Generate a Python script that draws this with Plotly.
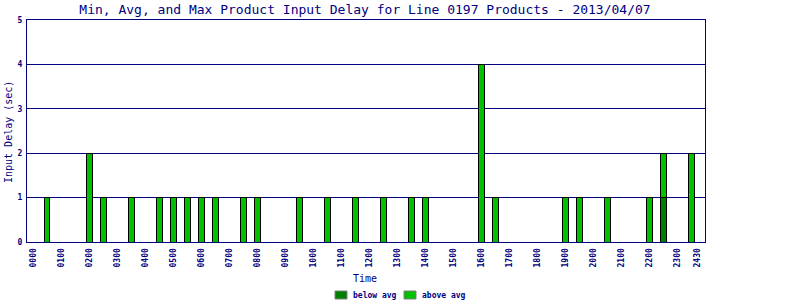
import plotly.graph_objects as go

# Half-hour slot (in hours) for each bar
slots = [0.5, 2.0, 2.5, 3.5, 4.5, 5.0, 5.5, 6.0, 6.5, 7.5, 8.0, 9.5, 10.5, 11.5,
         12.5, 13.5, 14.0, 16.0, 16.5, 19.0, 19.5, 20.5, 22.0, 22.5, 23.5]
below_avg = [None, None, None, None, None, None, None, None, None, None, None, None, None, None,
             None, None, None, None, None, None, None, None, None, 1, None]
above_avg = [1, 2, 1, 1, 1, 1, 1, 1, 1, 1, 1, 1, 1, 1,
             1, 1, 1, 4, 1, 1, 1, 1, 1, 1, 2]

tick_vals = list(range(24)) + [23.72]
tick_text = ["%02d00" % h for h in range(24)] + ["2430"]

series_names = ["below avg", "above avg"]
series_colors = ["#008000", "#00c000"]

NAVY = "#000080"
MONO = "DejaVu Sans Mono"

L, R, T, B = 27, 705, 20, 242
W, H = 800, 300


def px(x):
    return (x - L) / (R - L)


def py(y):
    return (B - y) / (B - T)


fig = go.Figure()
for name, vals, col in zip(series_names, [below_avg, above_avg], series_colors):
    fig.add_trace(go.Bar(x=slots, y=vals, name=name, width=0.2,
                         marker=dict(color=col, line=dict(color="#000000", width=1))))

fig.update_layout(
    width=W, height=H,
    barmode="stack",
    paper_bgcolor="white", plot_bgcolor="white",
    margin=dict(l=L, r=W - R, t=T, b=H - B, autoexpand=False),
    font=dict(family=MONO, color=NAVY, size=9),
    title=dict(text="Min, Avg, and Max Product Input Delay for Line 0197 Products - 2013/04/07",
               x=365 / W, xanchor="center",
               y=1 - 9 / H, yanchor="middle",
               font=dict(family=MONO, size=13, color=NAVY)),
    showlegend=False,
    hovermode=False,
)
fig.update_xaxes(
    range=[-0.22, 23.98], tickmode="array", tickvals=tick_vals, ticktext=tick_text,
    tickangle=-90, tickfont=dict(family=MONO, size=8, color=NAVY, weight="bold"),
    showgrid=False, zeroline=False, showline=True, linecolor=NAVY, linewidth=1,
    mirror=True, ticks="", automargin=False, ticklabelstandoff=2,
)
fig.update_yaxes(
    range=[0, 5], dtick=1, tickfont=dict(family=MONO, size=8, color=NAVY, weight="bold"),
    showgrid=True, gridcolor=NAVY, gridwidth=1, zeroline=False,
    showline=True, linecolor=NAVY, linewidth=1, mirror=True, ticks="", automargin=False,
    ticklabelstandoff=2,
)

# axis titles
fig.add_annotation(text="Time", x=px(365), y=py(278), xref="paper", yref="paper",
                   showarrow=False, xanchor="center", yanchor="middle",
                   font=dict(family=MONO, size=10, color=NAVY))
fig.add_annotation(text="Input Delay (sec)", x=px(8), y=py(132), xref="paper", yref="paper",
                   showarrow=False, xanchor="center", yanchor="middle", textangle=-90,
                   font=dict(family=MONO, size=10, color=NAVY))

# legend
legend_swatch_x = [335, 404]
for name, col, sx in zip(series_names, series_colors, legend_swatch_x):
    fig.add_shape(type="rect", xref="paper", yref="paper",
                  x0=px(sx), x1=px(sx + 12), y0=py(299), y1=py(291),
                  fillcolor=col, line=dict(color="#808080", width=1))
    fig.add_annotation(text=name, x=px(sx + 16), y=py(295), xref="paper", yref="paper",
                       showarrow=False, xanchor="left", yanchor="middle",
                       font=dict(family=MONO, size=8, color=NAVY, weight="bold"))

fig.write_html("out.html")
